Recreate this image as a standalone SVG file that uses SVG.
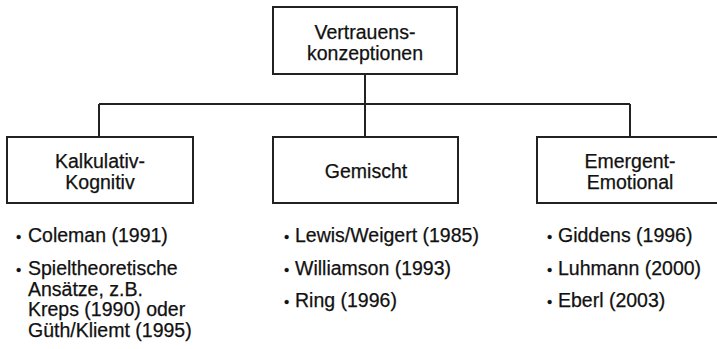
<svg xmlns="http://www.w3.org/2000/svg" width="717" height="349" viewBox="0 0 717 349">
<style>
.box{fill:#fff;stroke:#222;stroke-width:2}
.ln{fill:none;stroke:#222;stroke-width:2}
text{font-family:"Liberation Sans",Arial,sans-serif;font-size:19.5px;fill:#111;stroke:#111;stroke-width:0.25}
.c{text-anchor:middle}
.b{font-size:15px}
</style>
<rect width="717" height="349" fill="#fff"/>
<g id="connectors">
<path class="ln" d="M365,74 V104 M99,104 H630 M99,104 V137 M365,104 V137 M630,104 V137"/>
</g>
<g id="root">
<rect class="box" x="273" y="7" width="184" height="67"/>
<text class="c" x="365" y="39">Vertrauens-</text>
<text class="c" x="365" y="60">konzeptionen</text>
</g>
<g id="kalkulativ">
<rect class="box" x="7" y="137" width="186" height="66"/>
<text class="c" x="100" y="168">Kalkulativ-</text>
<text class="c" x="100" y="189">Kognitiv</text>
</g>
<g id="gemischt">
<rect class="box" x="273" y="137" width="185" height="66"/>
<text class="c" x="366" y="178">Gemischt</text>
</g>
<g id="emergent">
<rect class="box" x="537" y="137" width="186" height="66"/>
<text class="c" x="630" y="168">Emergent-</text>
<text class="c" x="630" y="189">Emotional</text>
</g>
<g id="list-kalkulativ">
<text x="16" y="242"><tspan class="b">•</tspan><tspan x="28">Coleman (1991)</tspan></text>
<text x="16" y="275"><tspan class="b">•</tspan><tspan x="28">Spieltheoretische</tspan></text>
<text x="28" y="295.5">Ansätze, z.B.</text>
<text x="28" y="316">Kreps (1990) oder</text>
<text x="28" y="336.5">Güth/Kliemt (1995)</text>
</g>
<g id="list-gemischt">
<text x="284" y="242"><tspan class="b">•</tspan><tspan x="295">Lewis/Weigert (1985)</tspan></text>
<text x="284" y="274.5"><tspan class="b">•</tspan><tspan x="295">Williamson (1993)</tspan></text>
<text x="284" y="307"><tspan class="b">•</tspan><tspan x="295">Ring (1996)</tspan></text>
</g>
<g id="list-emergent">
<text x="547" y="242"><tspan class="b">•</tspan><tspan x="558">Giddens (1996)</tspan></text>
<text x="547" y="274.5"><tspan class="b">•</tspan><tspan x="558">Luhmann (2000)</tspan></text>
<text x="547" y="307"><tspan class="b">•</tspan><tspan x="558">Eberl (2003)</tspan></text>
</g>
</svg>
